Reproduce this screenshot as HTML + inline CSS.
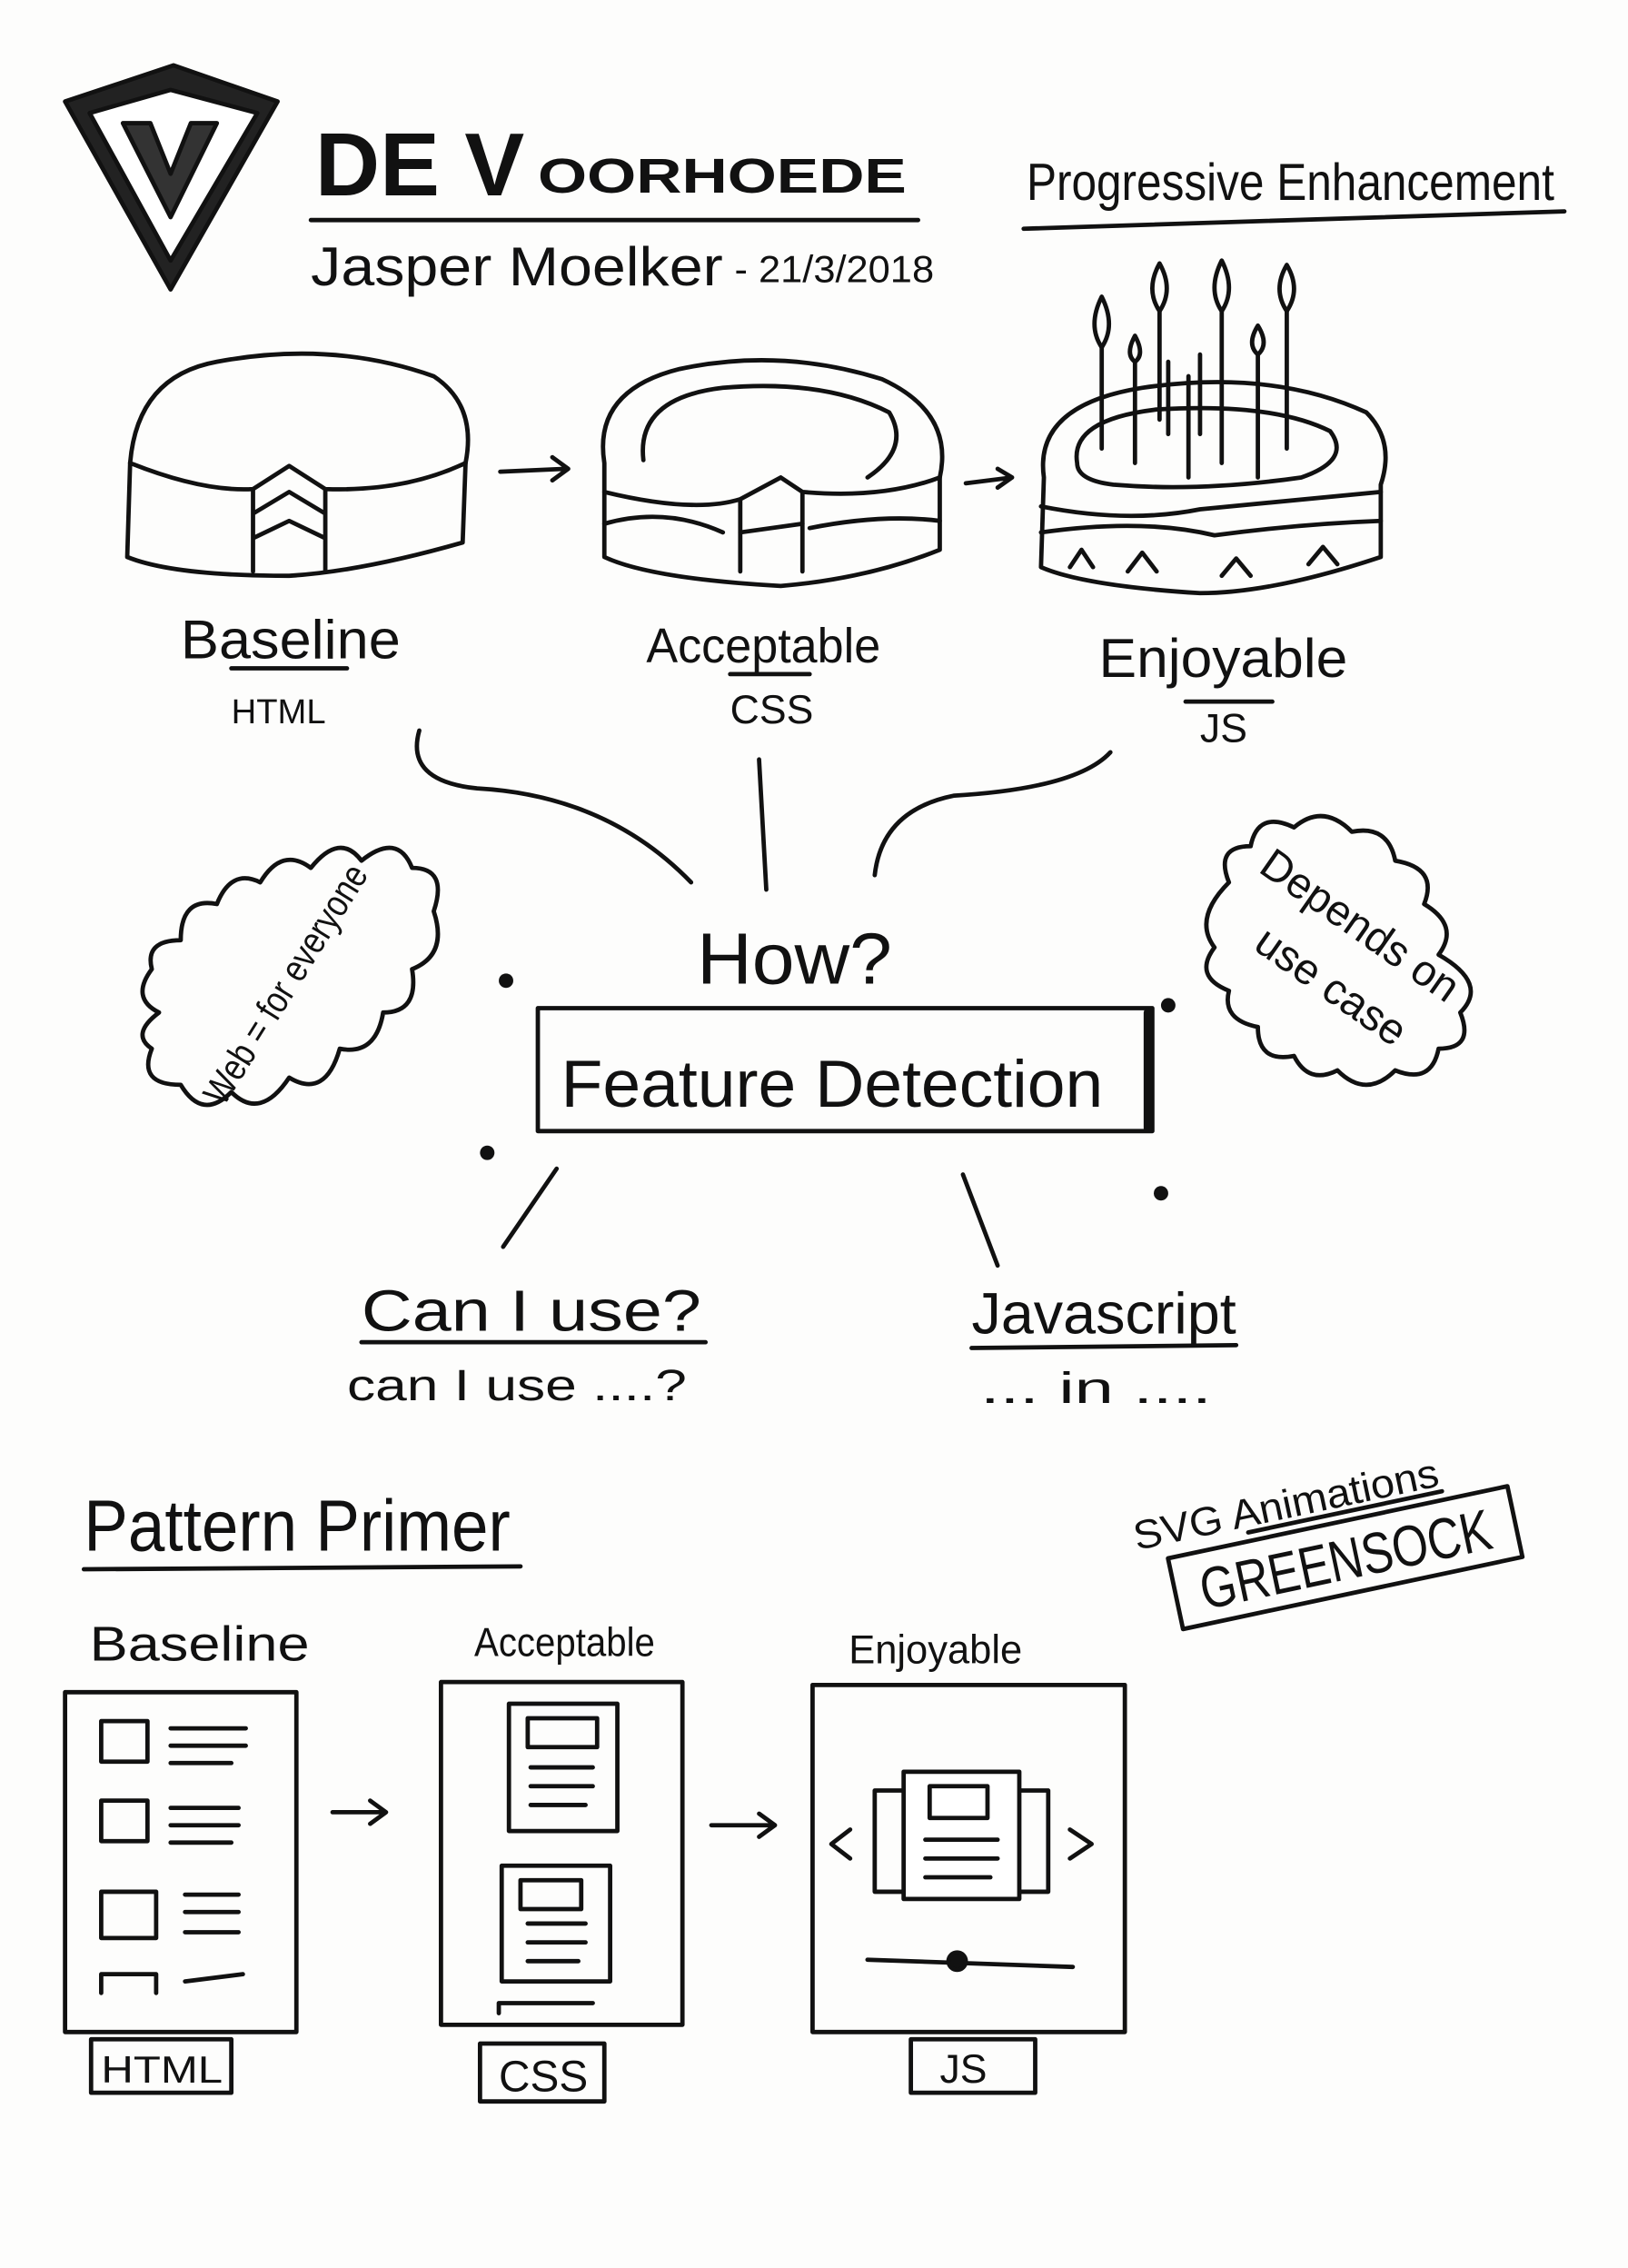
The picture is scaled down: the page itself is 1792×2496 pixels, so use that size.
<!DOCTYPE html>
<html><head><meta charset="utf-8"><style>
html,body{margin:0;padding:0;background:#fdfdfc;}
svg{display:block}
text{font-family:"Liberation Sans",sans-serif;fill:#111}
</style></head><body>
<svg width="1792" height="2496" viewBox="0 0 1126 1568" xmlns="http://www.w3.org/2000/svg">
<rect width="1126" height="1568" fill="#fdfdfc"/>
<g fill="none" stroke="#111" stroke-width="3" stroke-linecap="round" stroke-linejoin="round">
<!-- logo -->
<path d="M45 70 L120 45 L192 70 L118 200 Z" fill="#222"/>
<path d="M62 78 L118 62 L178 78 L118 180 Z" fill="#fff"/>
<path d="M85 85 L118 150 L150 85 L132 85 L118 120 L104 85 Z" fill="#333"/>
<line x1="215" y1="152" x2="635" y2="152"/>
<line x1="708" y1="158" x2="1082" y2="146"/>
<!-- cake 1 -->
<path d="M90 320 Q95 260 150 250 Q230 235 300 260 Q330 280 322 320 L320 375 Q250 395 200 398 Q120 398 88 385 Z"/>
<path d="M90 320 Q140 340 175 338 L200 322 L225 338 Q280 340 322 320"/>
<path d="M175 338 L175 395 M225 338 L225 395 M175 355 L200 340 L225 355 M175 372 L200 360 L225 372"/>
<!-- cake 2 -->
<path d="M418 320 Q410 270 470 255 Q540 240 610 262 Q660 285 650 330 L650 380 Q600 400 540 405 Q450 400 418 385 Z"/>
<path d="M445 318 Q440 275 500 268 Q570 262 615 285 Q630 310 600 330"/>
<path d="M418 340 Q480 355 512 345 L512 395 M555 340 L555 395 M512 345 L540 330 L555 340 Q610 345 650 330"/>
<path d="M418 362 Q460 350 500 368 M560 365 Q610 355 650 360 M512 368 L555 362"/>
<!-- cake 3 -->
<path d="M722 330 Q715 280 790 268 Q880 255 945 285 Q965 305 955 335 L955 385 Q880 410 830 410 Q750 405 720 392 Z"/>
<path d="M745 320 Q740 290 800 283 Q880 278 920 298 Q935 318 900 330 Q830 340 770 335 Q745 332 745 320"/>
<path d="M720 350 Q780 362 830 352 Q900 345 955 340 M720 368 Q790 358 840 370 Q900 362 955 360"/>
<path d="M740 392 L748 380 L756 392 M780 395 L790 382 L800 395 M845 398 L855 386 L865 398 M905 390 L915 378 L925 390"/>
<path d="M762 240 L762 310 M785 250 L785 320 M802 215 L802 290 M822 260 L822 330 M845 215 L845 320 M870 245 L870 330 M890 215 L890 310 M808 250 L808 300 M830 245 L830 300"/>
<path d="M762 205 Q752 225 762 240 Q772 225 762 205 M802 182 Q792 200 802 215 Q812 200 802 182 M845 180 Q835 200 845 215 Q855 200 845 180 M890 183 Q880 200 890 215 Q900 200 890 183 M870 225 Q862 238 870 245 Q878 238 870 225 M785 232 Q778 245 785 250 Q792 245 785 232"/>
<path d="M346 326 L392 324 M382 316 L393 324 L382 332"/>
<path d="M668 334 L700 330 M690 324 L700 330 L690 337"/>
<line x1="160" y1="462" x2="240" y2="462"/>
<line x1="505" y1="466" x2="560" y2="466"/>
<line x1="820" y1="485" x2="880" y2="485"/>
<!-- connectors -->
<path d="M290 505 Q280 540 330 545 Q420 550 478 610"/>
<path d="M525 525 L530 615"/>
<path d="M605 605 Q610 560 660 550 Q745 545 768 520"/>
<!-- box -->
<rect x="372" y="697" width="425" height="85"/>
<line x1="794" y1="700" x2="794" y2="780" stroke-width="6"/>
<line x1="385" y1="808" x2="348" y2="862"/>
<line x1="666" y1="812" x2="690" y2="875"/>
<line x1="250" y1="928" x2="488" y2="928"/>
<line x1="672" y1="932" x2="855" y2="930"/>
<!-- clouds -->
<path d="M110 700 Q90 690 105 670 Q100 650 125 650 Q125 620 150 625 Q160 600 180 610 Q195 585 215 600 Q235 575 250 595 Q275 575 285 600 Q310 600 300 630 Q310 660 285 670 Q290 700 265 700 Q260 730 235 725 Q225 760 200 745 Q180 775 160 755 Q140 775 125 750 Q95 750 105 725 Q90 715 110 700 Z"/>
<path d="M850 610 Q840 585 865 585 Q870 560 895 572 Q915 555 935 575 Q960 570 965 595 Q995 600 985 625 Q1010 640 995 660 Q1030 680 1010 700 Q1020 725 995 725 Q990 750 965 740 Q945 760 925 740 Q905 750 895 730 Q870 735 870 710 Q845 705 850 685 Q825 675 840 655 Q825 635 850 610 Z"/>
<!-- pattern primer -->
<line x1="58" y1="1085" x2="360" y2="1083"/>
<g transform="rotate(-12 930 1075)">
<rect x="810" y="1052" width="240" height="50"/>
<line x1="868" y1="1046" x2="1005" y2="1046"/>
</g>
<rect x="45" y="1170" width="160" height="235"/>
<rect x="305" y="1163" width="167" height="237"/>
<rect x="562" y="1165" width="216" height="240"/>
<rect x="70" y="1190" width="32" height="28"/><path d="M118 1195 L170 1195 M118 1207 L170 1207 M118 1219 L160 1219"/>
<rect x="70" y="1245" width="32" height="28"/><path d="M118 1250 L165 1250 M118 1262 L165 1262 M118 1274 L160 1274"/>
<rect x="70" y="1308" width="38" height="32"/><path d="M128 1310 L165 1310 M128 1322 L165 1322 M128 1336 L165 1336"/>
<path d="M70 1378 L70 1365 L108 1365 L108 1378 M128 1370 L168 1365"/>
<rect x="352" y="1178" width="75" height="88"/><rect x="365" y="1188" width="48" height="20"/><path d="M367 1222 L410 1222 M367 1235 L410 1235 M367 1248 L405 1248"/>
<rect x="347" y="1290" width="75" height="80"/><rect x="360" y="1300" width="42" height="20"/><path d="M365 1330 L405 1330 M365 1343 L405 1343 M365 1356 L400 1356"/>
<path d="M345 1385 L410 1385 M345 1392 L345 1385"/>
<rect x="605" y="1238" width="35" height="70"/><rect x="690" y="1238" width="35" height="70"/>
<rect x="625" y="1225" width="80" height="88" fill="#fff"/><rect x="643" y="1235" width="40" height="22"/><path d="M640 1272 L690 1272 M640 1285 L690 1285 M640 1298 L685 1298"/>
<path d="M588 1265 L575 1275 L588 1285 M740 1265 L755 1275 L740 1285"/>
<line x1="600" y1="1355" x2="742" y2="1360"/><circle cx="662" cy="1356" r="6" fill="#111"/>
<path d="M230 1253 L266 1253 M256 1245 L267 1253 L256 1261"/>
<path d="M492 1262 L535 1262 M525 1254 L536 1262 L525 1270"/>
<rect x="63" y="1410" width="97" height="37"/>
<rect x="332" y="1413" width="86" height="40"/>
<rect x="630" y="1410" width="86" height="37"/>
</g>
<g fill="#111">
<circle cx="350" cy="678" r="5"/><circle cx="808" cy="695" r="5"/><circle cx="337" cy="797" r="5"/><circle cx="803" cy="825" r="5"/>
</g>
<text x="218" y="135" font-size="62" font-weight="bold">DE V</text>
<text x="372" y="133" font-size="34" font-weight="bold" textLength="255" lengthAdjust="spacingAndGlyphs">OORHOEDE</text>
<text x="215" y="197" font-size="38" textLength="285" lengthAdjust="spacingAndGlyphs">Jasper Moelker</text>
<text x="508" y="195" font-size="26" textLength="138" lengthAdjust="spacingAndGlyphs">- 21/3/2018</text>
<text x="710" y="138" font-size="36" textLength="365" lengthAdjust="spacingAndGlyphs">Progressive Enhancement</text>
<text x="125" y="455" font-size="38" textLength="152" lengthAdjust="spacingAndGlyphs">Baseline</text>
<text x="160" y="500" font-size="24">HTML</text>
<text x="447" y="458" font-size="34" textLength="162" lengthAdjust="spacingAndGlyphs">Acceptable</text>
<text x="505" y="500" font-size="28">CSS</text>
<text x="760" y="468" font-size="38" textLength="172" lengthAdjust="spacingAndGlyphs">Enjoyable</text>
<text x="830" y="513" font-size="28">JS</text>
<text x="482" y="680" font-size="50" textLength="135" lengthAdjust="spacingAndGlyphs">How?</text>
<text x="388" y="765" font-size="46" textLength="375" lengthAdjust="spacingAndGlyphs">Feature  Detection</text>
<text x="250" y="920" font-size="40" textLength="235" lengthAdjust="spacingAndGlyphs">Can I use?</text>
<text x="240" y="968" font-size="30" textLength="235" lengthAdjust="spacingAndGlyphs">can I use ....?</text>
<text x="672" y="922" font-size="40" textLength="183" lengthAdjust="spacingAndGlyphs">Javascript</text>
<text x="678" y="970" font-size="30" textLength="160" lengthAdjust="spacingAndGlyphs">... in ....</text>
<text x="205" y="685" font-size="26" transform="rotate(-58 205 685)" text-anchor="middle" textLength="190" lengthAdjust="spacingAndGlyphs">Web = for everyone</text>
<text x="935" y="648" font-size="30" transform="rotate(35 935 648)" text-anchor="middle" textLength="160" lengthAdjust="spacingAndGlyphs">Depends on</text>
<text x="915" y="690" font-size="30" transform="rotate(35 915 690)" text-anchor="middle" textLength="120" lengthAdjust="spacingAndGlyphs">use case</text>
<text x="58" y="1072" font-size="50" textLength="295" lengthAdjust="spacingAndGlyphs">Pattern Primer</text>
<g transform="rotate(-12 930 1075)">
<text x="790" y="1042" font-size="28" textLength="215" lengthAdjust="spacingAndGlyphs">SVG Animations</text>
<text x="930" y="1092" font-size="40" text-anchor="middle" textLength="205" lengthAdjust="spacingAndGlyphs">GREENSOCK</text>
</g>
<text x="62" y="1148" font-size="34" textLength="152" lengthAdjust="spacingAndGlyphs">Baseline</text>
<text x="328" y="1145" font-size="28" textLength="125" lengthAdjust="spacingAndGlyphs">Acceptable</text>
<text x="587" y="1150" font-size="28" textLength="120" lengthAdjust="spacingAndGlyphs">Enjoyable</text>
<text x="70" y="1440" font-size="26" textLength="84" lengthAdjust="spacingAndGlyphs">HTML</text>
<text x="345" y="1446" font-size="30">CSS</text>
<text x="650" y="1440" font-size="28">JS</text>
</svg>
</body></html>
